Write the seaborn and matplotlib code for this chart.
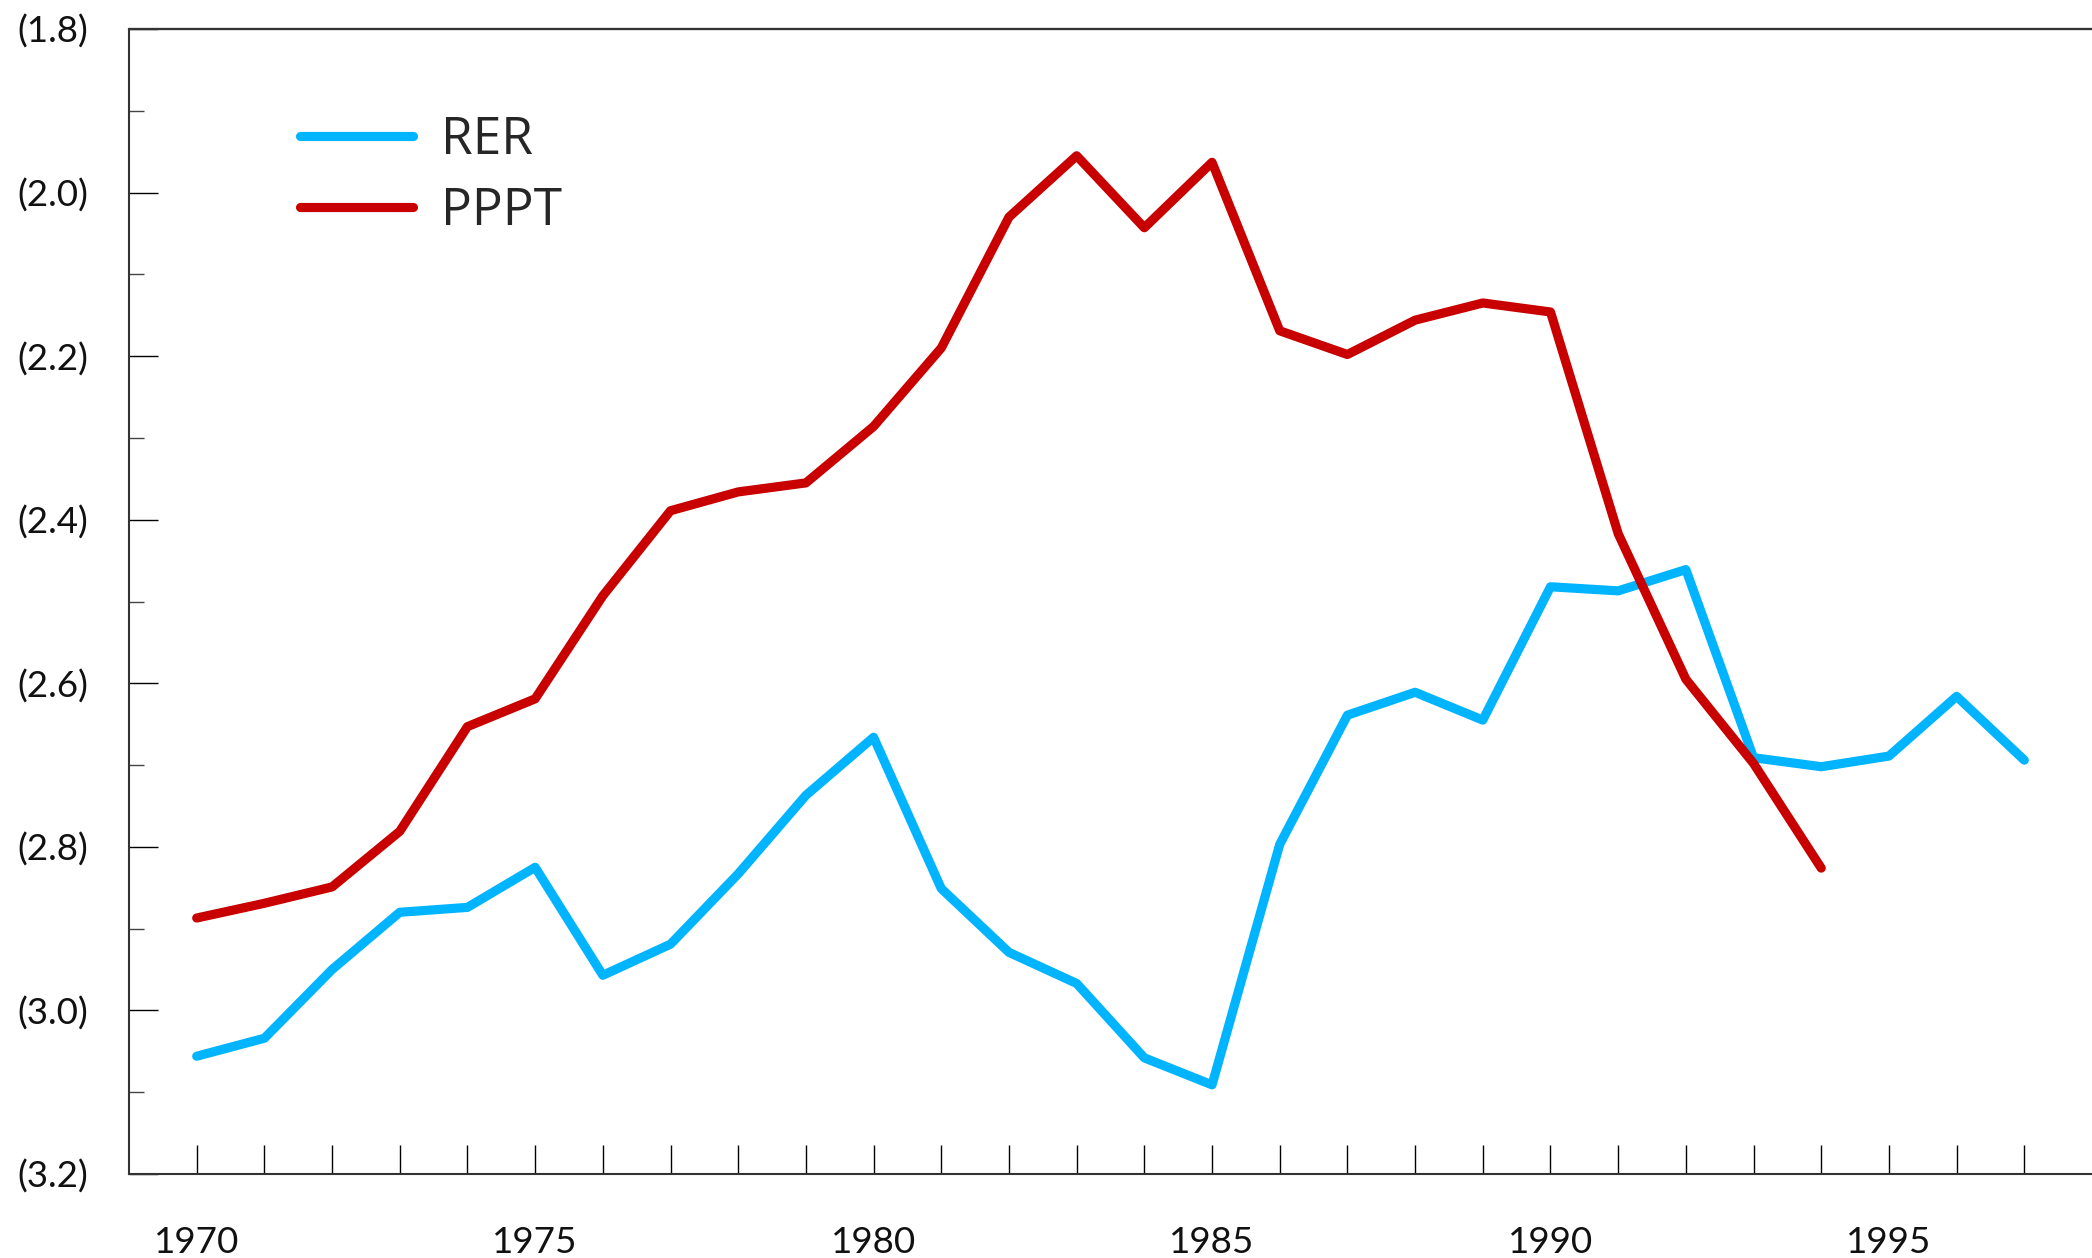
import pandas as pd
import matplotlib
matplotlib.use("Agg")
import matplotlib.pyplot as plt
import seaborn as sns
import numpy as np
from matplotlib.ticker import MultipleLocator, FixedLocator, FuncFormatter

# Set style
sns.set_style("white")
plt.rcParams['font.family'] = ['Lato', 'DejaVu Sans']

# Data
years_rer = list(range(1970, 1998))
rer = [-3.056, -3.034, -2.950, -2.880, -2.874, -2.825, -2.957, -2.919,
       -2.833, -2.737, -2.666, -2.851, -2.929, -2.967, -3.058, -3.091,
       -2.797, -2.639, -2.611, -2.645, -2.482, -2.487, -2.461, -2.691,
       -2.702, -2.689, -2.616, -2.694]

years_pppt = list(range(1970, 1995))
pppt = [-2.887, -2.869, -2.849, -2.781, -2.653, -2.619, -2.493, -2.389,
        -2.366, -2.355, -2.286, -2.190, -2.030, -1.955, -2.043, -1.963,
        -2.169, -2.198, -2.156, -2.135, -2.146, -2.417, -2.595, -2.698,
        -2.826]

series_names = ['RER', 'PPPT']
colors = ['#00B4FF', '#C80000']

df = pd.concat([
    pd.DataFrame({'year': years_rer, 'value': rer, 'series': 'RER'}),
    pd.DataFrame({'year': years_pppt, 'value': pppt, 'series': 'PPPT'}),
], ignore_index=True)

fig = plt.figure(figsize=(20.92, 12.58), dpi=100)
ax = fig.add_axes([129 / 2092, 1 - 1174 / 1258, 1 - 129 / 2092, (1174 - 29) / 1258])

sns.lineplot(data=df, x='year', y='value', hue='series', hue_order=series_names,
             palette=colors, linewidth=6.6, solid_capstyle='round', ax=ax)

ax.set_xlim(1969, 1998)
ax.set_ylim(-3.2, -1.8)
ax.set_xlabel('')
ax.set_ylabel('')

# Spines
for side in ['left', 'top', 'bottom']:
    ax.spines[side].set_visible(True)
    ax.spines[side].set_color('#333333')
    ax.spines[side].set_linewidth(1.5)
ax.spines['right'].set_visible(False)
# top frame line drawn once more so it stays crisp
ax.axhline(-1.8, color='#333333', linewidth=1.6, clip_on=False, zorder=5)

# Ticks
ax.xaxis.set_major_locator(MultipleLocator(5))
ax.xaxis.set_minor_locator(FixedLocator(years_rer))
ax.yaxis.set_major_locator(MultipleLocator(0.2))
ax.yaxis.set_minor_locator(MultipleLocator(0.1))
ax.yaxis.set_major_formatter(FuncFormatter(lambda v, p: f'({abs(v):.1f})'))
ax.xaxis.set_major_formatter(FuncFormatter(lambda v, p: f'{int(round(v))}'))

ax.tick_params(axis='x', which='both', direction='in', length=21, width=1,
               color='black', bottom=True, top=False, pad=37.5, labelsize=26.5,
               labelcolor='#111111')
ax.tick_params(axis='y', which='major', direction='in', length=21, width=1,
               color='black', left=True, right=False, labelsize=26.5,
               labelcolor='#111111')
ax.tick_params(axis='y', which='minor', direction='in', length=11, width=1,
               color='#444444', left=True, right=False)
for lbl in ax.get_yticklabels():
    lbl.set_horizontalalignment('left')
ax.yaxis.set_tick_params(pad=112 / (100 / 72))

# Legend
handles, labels = ax.get_legend_handles_labels()
leg = ax.legend(handles, labels, loc='center left',
                bbox_to_anchor=(300 / 2092, 1 - 176 / 1258), bbox_transform=fig.transFigure,
                frameon=False, borderpad=0, borderaxespad=0, handlelength=2.2,
                handletextpad=0.55, labelspacing=0.38,
                prop={'family': ['Open Sans', 'DejaVu Sans'], 'size': 37})
for line in leg.get_lines():
    line.set_linewidth(6.6)
    line.set_solid_capstyle('round')

plt.savefig('out.png', dpi=100)
plt.close()
